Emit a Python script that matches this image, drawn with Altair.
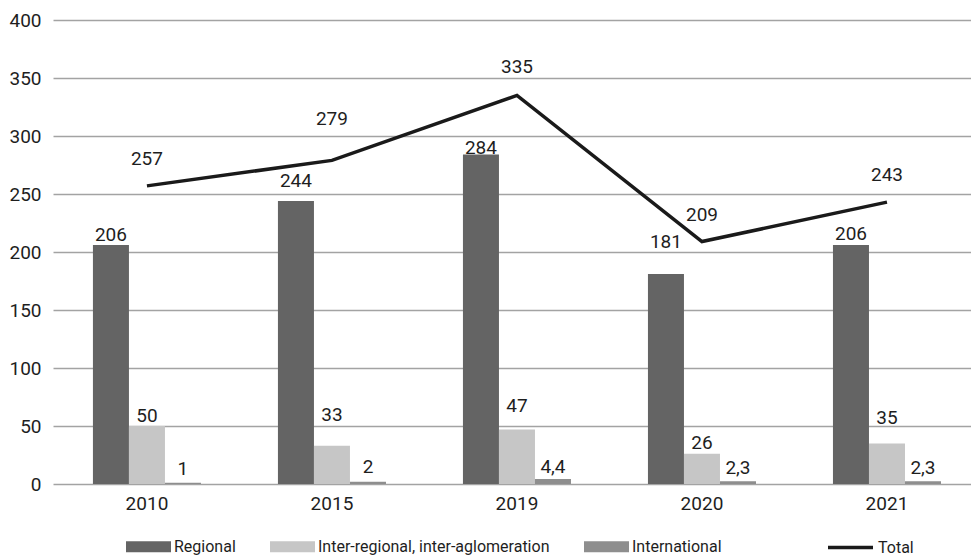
import altair as alt
import pandas as pd

# ---- data ----
years = ["2010", "2015", "2019", "2020", "2021"]
series_names = ["Regional", "Inter-regional, inter-aglomeration", "International"]
regional = [206, 244, 284, 181, 206]
inter_regional = [50, 33, 47, 26, 35]
international = [1, 2, 4.4, 2.3, 2.3]
total = [257, 279, 335, 209, 243]

# ---- label placement (style: pixel gap between bar/point and label) ----
regional_gap = [4, 14, 1, 26, 5]
inter_gap = [4, 25, 17, 5, 19]
intl_gap = [8, 9, 6, 7, 7]
total_gap = [21, 35, 22, 21, 21]

FONT = "Roboto"
FS = 19
LFS = 16
TXT = "#1e1e1e"
colors = ["#646464", "#c6c6c6", "#8e8e8e"]

PLOT_H = 464
YMAX = 400
PX = YMAX / PLOT_H  # data units per pixel


def fmt(v):
    s = f"{v:g}"
    return s.replace(".", ",")


rows = []
for vals, gaps, name in zip([regional, inter_regional, international],
                            [regional_gap, inter_gap, intl_gap], series_names):
    for y, v, g in zip(years, vals, gaps):
        rows.append({"year": y, "series": name, "value": v, "label": fmt(v), "gap": g})
bars_df = pd.DataFrame(rows)

tot_df = pd.DataFrame({"year": years, "total": total, "name": ["Total"] * len(years),
                       "label": [fmt(v) for v in total], "gap": total_gap})

x_enc = alt.X("year:N", sort=years,
              scale=alt.Scale(paddingInner=0.416, paddingOuter=0.189, align=0.571),
              axis=alt.Axis(title=None, labelAngle=0, ticks=False, domain=False, grid=False,
                            labelPadding=10, labelFont=FONT, labelFontSize=FS, labelColor=TXT))
y_scale = alt.Scale(domain=[0, YMAX], nice=False)
xoff = alt.XOffset("series:N", sort=series_names,
                   scale=alt.Scale(domain=series_names, paddingInner=0, paddingOuter=0))

bars = alt.Chart(bars_df).mark_bar().encode(
    x=x_enc,
    xOffset=xoff,
    y=alt.Y("value:Q", scale=y_scale,
            axis=alt.Axis(title=None, values=[0, 50, 100, 150, 200, 250, 300, 350, 400],
                          ticks=False, domain=False, grid=True, gridColor="#a3a3a3", gridWidth=1.6,
                          labelPadding=12, labelFont=FONT, labelFontSize=FS, labelColor=TXT)),
    color=alt.Color("series:N", sort=series_names,
                    scale=alt.Scale(domain=series_names, range=colors),
                    legend=alt.Legend(title=None, orient="none", legendX=73, legendY=504,
                                      direction="horizontal", symbolType="M-1,-0.244H1V0.244H-1Z",
                                      symbolSize=2025, symbolStrokeWidth=0, symbolOpacity=1,
                                      labelOffset=3, columnPadding=34, padding=0, labelLimit=500,
                                      labelFont=FONT, labelFontSize=LFS, labelColor=TXT)),
)

bar_text = alt.Chart(bars_df).transform_calculate(
    ly=f"datum.value + datum.gap * {PX}"
).mark_text(baseline="alphabetic", font=FONT, fontSize=FS, color=TXT).encode(
    x=alt.X("year:N", sort=years),
    xOffset=xoff,
    y=alt.Y("ly:Q", scale=y_scale),
    text="label:N",
)

line = alt.Chart(tot_df).mark_line(strokeWidth=3.5).encode(
    x=alt.X("year:N", sort=years),
    y=alt.Y("total:Q", scale=y_scale),
    stroke=alt.Stroke("name:N", scale=alt.Scale(domain=["Total"], range=["#1a1a1a"]),
                      legend=alt.Legend(title=None, orient="none", legendX=773, legendY=503,
                                        symbolType="stroke", symbolSize=2025, symbolStrokeWidth=3.5,
                                        labelOffset=3, padding=0, labelLimit=200,
                                        labelFont=FONT, labelFontSize=LFS, labelColor=TXT)),
)

line_text = alt.Chart(tot_df).transform_calculate(
    ly=f"datum.total + datum.gap * {PX}"
).mark_text(baseline="alphabetic", font=FONT, fontSize=FS, color=TXT).encode(
    x=alt.X("year:N", sort=years),
    y=alt.Y("ly:Q", scale=y_scale),
    text="label:N",
)

chart = alt.layer(bars, bar_text, line, line_text).properties(
    width=918, height=PLOT_H,
    autosize=alt.AutoSizeParams(type="none"),
    padding={"left": 53, "top": 20, "right": 0, "bottom": 74},
    background="white",
).configure_view(stroke=None)

chart.save("out.html", embed_options={"renderer": "svg", "actions": False})
